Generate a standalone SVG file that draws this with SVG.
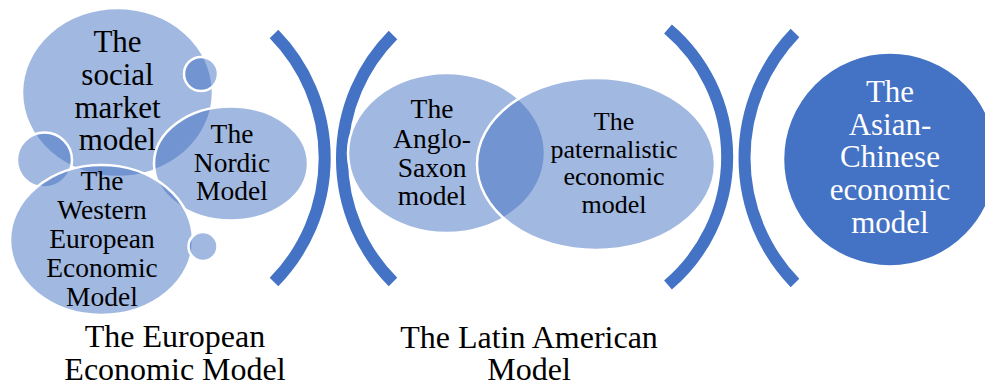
<svg xmlns="http://www.w3.org/2000/svg" width="985" height="386" viewBox="0 0 985 386">
<style>
.s{fill:#4472C4;fill-opacity:0.5;stroke:#FFFFFF;stroke-width:2.5}
.d{fill:#4472C4;stroke:#FFFFFF;stroke-width:2.5}
.br{fill:none;stroke:#4472C4;stroke-width:12}
text{font-family:"Liberation Serif","Times New Roman",serif;text-anchor:middle;fill:#000000}
.w{fill:#FFFFFF}
</style>
<rect width="985" height="386" fill="#FFFFFF"/>
<g id="connectors">
<path class="br" d="M 274 34 A 177 177 0 0 1 274 282"/>
<path class="br" d="M 393 35 A 175 175 0 0 0 393 282"/>
<path class="br" d="M 668 29 A 168 168 0 0 1 668 285"/>
<path class="br" d="M 795 33 A 180 180 0 0 0 795 283"/>
</g>
<g id="social-market">
<ellipse class="s" cx="117.5" cy="92.5" rx="95.5" ry="84.5"/>
<text font-size="31"><tspan x="117.5" y="52">The</tspan><tspan x="117.5" y="85">social</tspan><tspan x="117.5" y="118">market</tspan><tspan x="117.5" y="150">model</tspan></text>
</g>
<g id="bubble-1"><circle class="s" cx="201" cy="74" r="17"/></g>
<g id="nordic">
<ellipse class="s" cx="231" cy="163.5" rx="77" ry="57"/>
<text font-size="27.5"><tspan x="232" y="143">The</tspan><tspan x="232" y="172">Nordic</tspan><tspan x="232" y="200">Model</tspan></text>
</g>
<g id="bubble-2"><circle class="s" cx="44.5" cy="160" r="27.5"/></g>
<g id="western">
<ellipse class="s" cx="101.5" cy="240" rx="91.5" ry="75"/>
<text font-size="27.5"><tspan x="102" y="190">The</tspan><tspan x="102" y="219">Western</tspan><tspan x="102" y="248">European</tspan><tspan x="102" y="277">Economic</tspan><tspan x="102" y="306">Model</tspan></text>
</g>
<g id="bubble-3"><circle class="s" cx="203" cy="246.5" r="14.5"/></g>
<g id="european-label">
<text font-size="32"><tspan x="175" y="347">The European</tspan><tspan x="175" y="380">Economic Model</tspan></text>
</g>
<g id="anglo-saxon">
<ellipse class="s" cx="446.5" cy="153" rx="98.5" ry="80"/>
<text font-size="27.5"><tspan x="432" y="118">The</tspan><tspan x="432" y="148">Anglo-</tspan><tspan x="432" y="177">Saxon</tspan><tspan x="432" y="205">model</tspan></text>
</g>
<g id="paternalistic">
<ellipse class="s" cx="596" cy="164" rx="119" ry="86"/>
<text font-size="26"><tspan x="614" y="130">The</tspan><tspan x="614" y="157.5">paternalistic</tspan><tspan x="614" y="185">economic</tspan><tspan x="614" y="212.5">model</tspan></text>
</g>
<g id="latin-label">
<text font-size="32"><tspan x="529" y="348">The Latin American</tspan><tspan x="529" y="380">Model</tspan></text>
</g>
<g id="asian-chinese">
<circle class="d" cx="890" cy="159.5" r="107"/>
<text class="w" font-size="31"><tspan x="890" y="102">The</tspan><tspan x="890" y="135">Asian-</tspan><tspan x="890" y="167">Chinese</tspan><tspan x="890" y="200">economic</tspan><tspan x="890" y="233">model</tspan></text>
</g>
</svg>
